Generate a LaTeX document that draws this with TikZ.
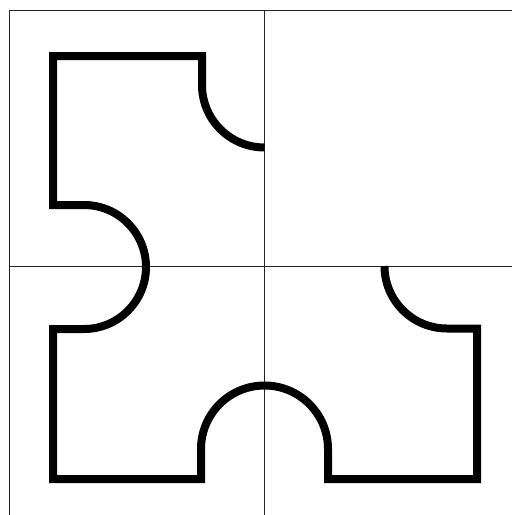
\documentclass[tikz,border=0pt]{standalone}
\begin{document}
\begin{tikzpicture}[x=1pt,y=-1pt,
  gridline/.style={line width=0.9pt,draw=black!85},
  outline/.style={line width=8pt,draw=black,line join=miter}]
\useasboundingbox (0,0) rectangle (512,515);
% grid
\draw[gridline] (9.5,515) -- (9.5,10) -- (512,10);
\draw[gridline] (264.5,10) -- (264.5,515);
\draw[gridline] (9.5,266) -- (512,266);
% outline
\draw[outline] (264.5,147.5) arc (90:180:62.5)
  -- (202,56) -- (53,56) -- (53,205) -- (84,205)
  arc (-90:90:62)
  -- (53,329) -- (53,479) -- (201,479) -- (201,449)
  arc (180:360:63.5)
  -- (328,479) -- (477,479) -- (477,328.5) -- (447,328.5)
  arc (90:180:62.5);
\end{tikzpicture}
\end{document}
